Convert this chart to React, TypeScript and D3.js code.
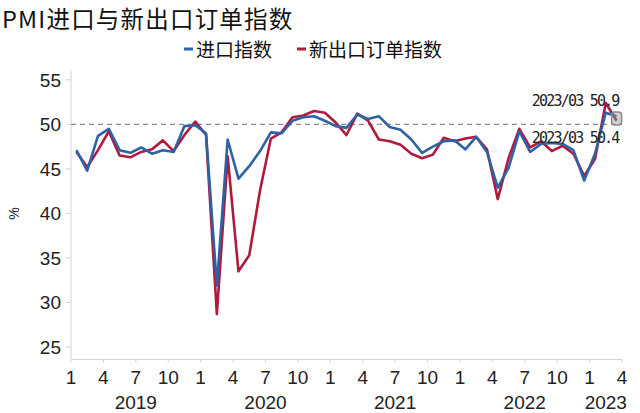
import React from "react";
import * as d3 from "d3";

const years = [2019, 2020, 2021, 2022, 2023];
const monthTicks = ["1", "4", "7", "10"];
const yTicks = [25, 30, 35, 40, 45, 50, 55];

// PMI import index (blue)
const importIdx = [
  47.1, 44.8, 48.7, 49.5, 47.1, 46.8, 47.4, 46.7, 47.1, 46.9, 49.8, 49.9,
  49.0, 31.9, 48.3, 43.9, 45.3, 47.0, 49.1, 49.0, 50.4, 50.8, 50.9, 50.4,
  49.8, 49.6, 51.1, 50.6, 50.9, 49.7, 49.4, 48.3, 46.8, 47.5, 48.1, 48.2,
  47.2, 48.6, 46.9, 42.9, 45.1, 49.2, 46.9, 47.8, 47.9, 47.8, 47.1, 43.7,
  46.7, 51.3, 50.9,
];
// PMI new export orders index (red)
const exportIdx = [
  46.9, 45.2, 47.1, 49.2, 46.5, 46.3, 46.9, 47.2, 48.2, 47.0, 48.8, 50.3,
  48.8, 28.7, 46.4, 33.5, 35.3, 42.6, 48.4, 49.1, 50.8, 51.0, 51.5, 51.3,
  50.2, 48.8, 51.2, 50.4, 48.3, 48.1, 47.7, 46.7, 46.2, 46.6, 48.5, 48.1,
  48.4, 48.6, 47.2, 41.6, 46.2, 49.5, 47.4, 48.1, 47.0, 47.6, 46.7, 44.2,
  46.1, 52.4, 50.4,
];
const seriesNames = ["进口指数", "新出口订单指数"];
const lastLabel = "2023/03";

const BLUE = "#2e62a6";
const RED = "#b01a3c";
const AXIS = "#d4d4d4";

export default function App() {
  const W = 640, H = 413;
  const left = 71, right = 622, bottom = 359.5;

  const periods = importIdx.map((_, i) => i);
  const x = d3.scaleBand<number>().domain(periods).range([left, right]);
  const cx = (i: number) => (x(i) as number) + x.bandwidth() / 2;
  const y = d3.scaleLinear().domain([23.6, 55]).range([bottom, 79.8]);

  const line = d3
    .line<number>()
    .x((_, i) => cx(i))
    .y((d) => y(d));

  const nMonths = importIdx.length;
  const tickIdx: number[] = [];
  for (let i = 0; i <= nMonths; i += 3) tickIdx.push(i);
  const tickX = (i: number) => left + i * x.step();

  const last = nMonths - 1;
  const lx = cx(last);
  const yImp = y(importIdx[last]);
  const yExp = y(exportIdx[last]);

  const numFont = "'Liberation Sans', Arial, sans-serif";
  const cjk = "'Noto Sans CJK SC', sans-serif";
  const mono = "'DejaVu Sans Mono', monospace";

  return (
    <svg
      width={W}
      height={H}
      style={{ position: "absolute", left: 0, top: 0, background: "#fff" }}
    >
      <text x={2} y={28} fontFamily={cjk} fontSize={23.5} fontWeight={400} letterSpacing={1.2} fill="#111">
        PMI进口与新出口订单指数
      </text>

      {/* legend */}
      <line x1={184} x2={193} y1={49} y2={49} stroke={BLUE} strokeWidth={3} />
      <text x={196} y={57} fontFamily={cjk} fontSize={19} fill="#111">
        {seriesNames[0]}
      </text>
      <line x1={297} x2={306} y1={49} y2={49} stroke={RED} strokeWidth={3} />
      <text x={309} y={57} fontFamily={cjk} fontSize={19} fill="#111">
        {seriesNames[1]}
      </text>

      {/* y axis */}
      <line x1={left} x2={left} y1={70} y2={bottom} stroke={AXIS} />
      {yTicks.map((t) => (
        <g key={t}>
          <line x1={66} x2={left} y1={y(t)} y2={y(t)} stroke={AXIS} />
          <text
            x={61}
            y={y(t) + 7}
            textAnchor="end"
            fontFamily={numFont}
            fontSize={19}
            fill="#222"
          >
            {t}
          </text>
        </g>
      ))}
      <text
        transform={`translate(19,${y(40)}) rotate(-90)`}
        textAnchor="middle"
        fontFamily={numFont}
        fontSize={14}
        fill="#222"
      >
        %
      </text>

      {/* 50 reference */}
      <line
        x1={left}
        x2={right}
        y1={y(50)}
        y2={y(50)}
        stroke="#8c8c8c"
        strokeWidth={1.3}
        strokeDasharray="5,4"
      />

      {/* x axis */}
      <line x1={left} x2={right} y1={bottom} y2={bottom} stroke={AXIS} />
      {tickIdx.map((i) => (
        <g key={i}>
          <line x1={tickX(i)} x2={tickX(i)} y1={bottom} y2={bottom + 3} stroke={AXIS} />
          <text
            x={tickX(i)}
            y={384}
            textAnchor="middle"
            fontFamily={numFont}
            fontSize={19}
            fill="#222"
          >
            {monthTicks[(i / 3) % 4]}
          </text>
        </g>
      ))}
      {years.map((yr, k) => {
        const s = k * 12;
        const e = Math.min((k + 1) * 12, nMonths);
        let mid = (tickX(s) + tickX(e)) / 2;
        mid = Math.min(mid, W - 30);
        return (
          <text
            key={yr}
            x={mid}
            y={409}
            textAnchor="middle"
            fontFamily={numFont}
            fontSize={19}
            fill="#222"
          >
            {yr}
          </text>
        );
      })}

      {/* series */}
      <path d={line(exportIdx) || ""} fill="none" stroke={RED} strokeWidth={2.6} strokeLinejoin="round" />
      <path d={line(importIdx) || ""} fill="none" stroke={BLUE} strokeWidth={2.6} strokeLinejoin="round" />

      {/* end marker + labels */}
      <rect
        x={lx - 5}
        y={(yImp + yExp) / 2 - 6.5}
        width={10}
        height={13}
        rx={3}
        fill="rgba(150,150,150,0.45)"
        stroke="#8a8a8a"
        strokeWidth={1.5}
      />
      <text
        x={lx + 2}
        y={yImp - 10}
        textAnchor="end"
        fontFamily={mono}
        fontSize={15}
        letterSpacing={-1.8}
        fill="#222"
      >
        {`${lastLabel} ${importIdx[last].toFixed(1)}`}
      </text>
      <text
        x={lx + 2}
        y={yExp + 22}
        textAnchor="end"
        fontFamily={mono}
        fontSize={15}
        letterSpacing={-1.8}
        fill="#222"
      >
        {`${lastLabel} ${exportIdx[last].toFixed(1)}`}
      </text>
    </svg>
  );
}
